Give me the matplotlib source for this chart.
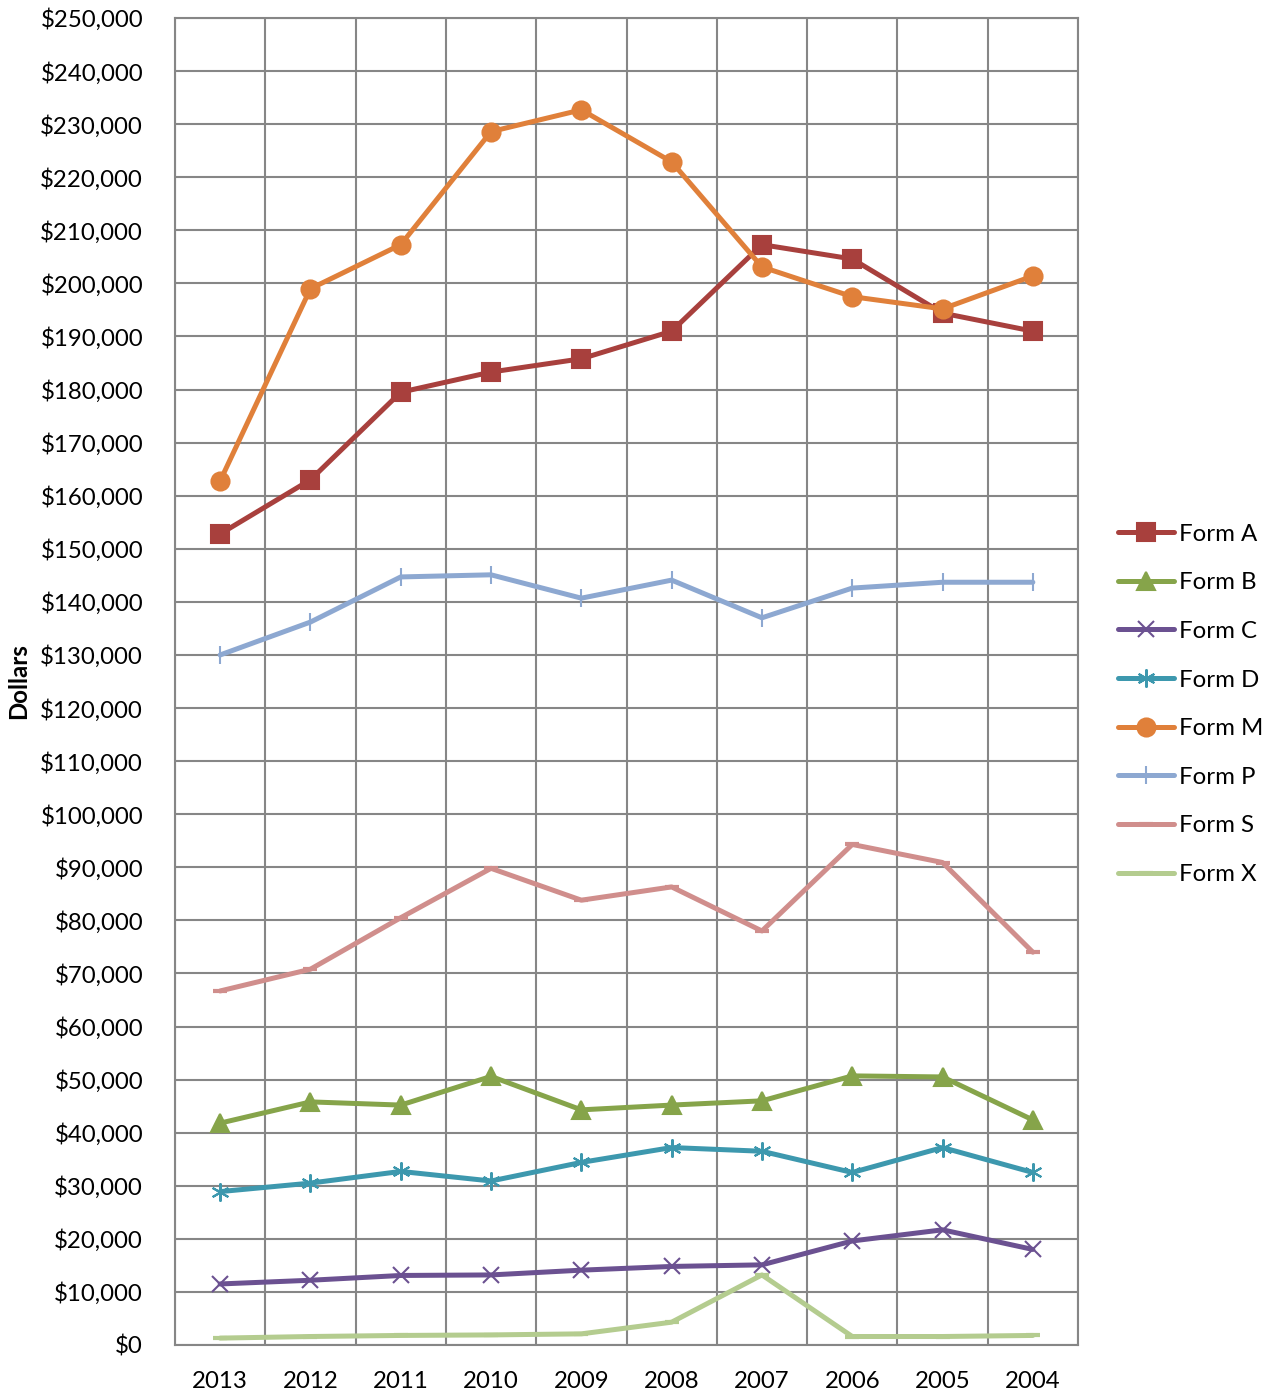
import numpy as np
import matplotlib
matplotlib.use("Agg")
import matplotlib.pyplot as plt
from matplotlib.ticker import FuncFormatter, FixedLocator

plt.rcParams['font.family'] = ['Lato', 'DejaVu Sans']

# data (dollars)
years = ["2013", "2012", "2011", "2010", "2009", "2008", "2007", "2006", "2005", "2004"]

form_a = [152800, 163000, 179500, 183300, 185800, 191000, 207300, 204600, 194400, 191000]
form_b = [41800, 45800, 45200, 50600, 44300, 45200, 46000, 50700, 50500, 42400]
form_c = [11500, 12200, 13100, 13200, 14100, 14800, 15100, 19600, 21700, 18000]
form_d = [28900, 30500, 32700, 30900, 34400, 37200, 36500, 32500, 37200, 32500]
form_m = [162800, 199000, 207300, 228600, 232700, 222900, 203100, 197500, 195200, 201400]
form_p = [130000, 136200, 144700, 145100, 140700, 144100, 137000, 142600, 143700, 143700]
form_s = [66700, 70800, 80500, 89800, 83800, 86300, 78000, 94300, 90900, 74000]
form_x = [1300, 1600, 1800, 1900, 2100, 4300, 13200, 1600, 1600, 1800]

series = [
    ("Form A", form_a, "#A8403D", "s", 13, 1.5),
    ("Form B", form_b, "#86A44A", "^", 13, 1.5),
    ("Form C", form_c, "#6B5191", "x", 12, 1.5),
    ("Form D", form_d, "#3D98AE", (6, 2, 0), 13, 1.5),
    ("Form M", form_m, "#E0803A", "o", 13, 1.5),
    ("Form P", form_p, "#8DA8D1", "|", 13, 1.5),
    ("Form S", form_s, "#D08E8C", "_", 10, 3.0),
    ("Form X", form_x, "#B4CC8F", "_", 10, 3.0),
]

FS = 17.3

fig = plt.figure(figsize=(12.67, 13.97), dpi=100)
ax = fig.add_axes([175 / 1267, 52 / 1397, 903 / 1267, 1327 / 1397])

x = np.arange(len(years))
for name, vals, col, mk, ms, mew in series:
    ax.plot(x, vals, color=col, lw=3.6, marker=mk, ms=ms, mew=mew,
            mec=col, mfc=col, label=name, solid_joinstyle='round',
            solid_capstyle='round')

ax.set_xlim(-0.5, len(years) - 0.5)
ax.set_ylim(0, 250000)
ax.set_yticks(np.arange(0, 250001, 10000))
ax.yaxis.set_major_formatter(FuncFormatter(lambda v, p: "${:,.0f}".format(v)))
ax.set_xticks(x)
ax.set_xticklabels(years)
ax.xaxis.set_minor_locator(FixedLocator(np.arange(-0.5, len(years), 1.0)))

ax.grid(True, which='major', axis='y', color='#868686', lw=1.5)
ax.grid(True, which='minor', axis='x', color='#868686', lw=1.5)
ax.set_axisbelow(True)
for s in ax.spines.values():
    s.set_color('#868686')
    s.set_linewidth(1.5)

ax.tick_params(axis='y', which='both', length=0, pad=23, labelsize=FS)
ax.tick_params(axis='x', which='both', length=0, pad=19, labelsize=FS)

ax.set_ylabel("Dollars", fontsize=FS, fontweight='bold', labelpad=7)

fig.legend(loc='upper left', bbox_to_anchor=(1108 / 1267, 1 - 514 / 1397),
           frameon=False, fontsize=FS, handlelength=2.35,
           handletextpad=0.2, labelspacing=1.15, borderaxespad=0)

fig.savefig("out.png", dpi=100)
